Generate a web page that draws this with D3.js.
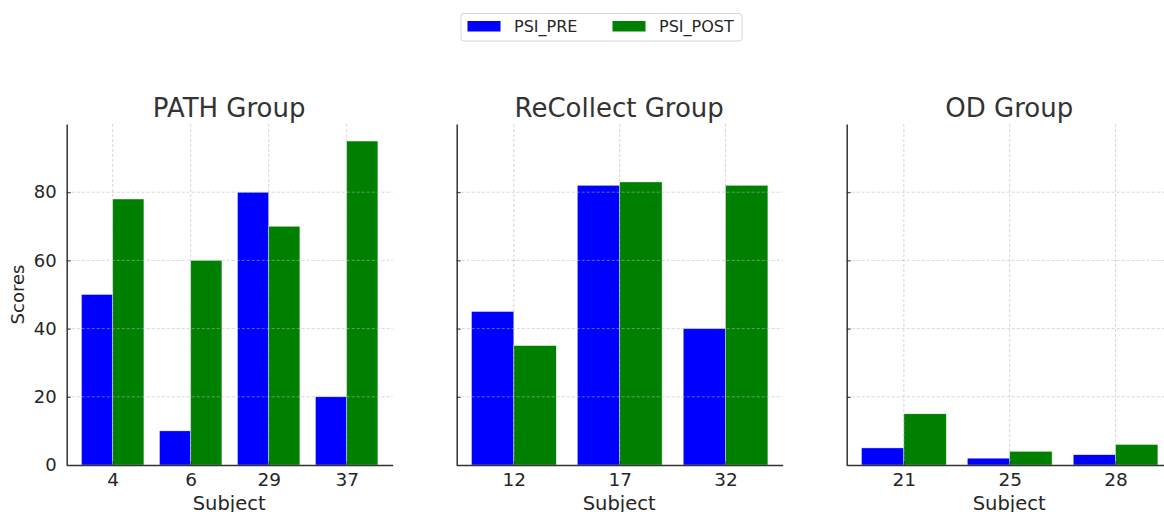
<!DOCTYPE html>
<html>
<head>
<meta charset="utf-8">
<script src="https://cdn.jsdelivr.net/npm/d3@7"></script>
<style>
  html, body { margin: 0; padding: 0; background: #fff; }
  svg { display: block; font-family: "DejaVu Sans", sans-serif; }
</style>
</head>
<body>
<div id="chart"></div>
<script>
// data
const groups = ["PATH Group", "ReCollect Group", "OD Group"]
const subjects = [[4, 6, 29, 37], [12, 17, 32], [21, 25, 28]]
const psiPre = [[50, 10, 80, 20], [45, 82, 40], [5, 2, 3]]
const psiPost = [[78, 60, 70, 95], [35, 83, 82], [15, 4, 6]]
const seriesNames = ["PSI_PRE", "PSI_POST"]
const seriesColors = ["#0000ff", "#008000"]
const yTicks = [0, 20, 40, 60, 80]

const width = 1164, height = 512
const svg = d3.select("#chart").append("svg")
    .attr("width", width)
    .attr("height", height)

// layout
const panelLeft = [66.7, 456.7, 846.7]
const panelW = 326
const plotTop = 124, plotBottom = 465
const barW = 0.4
const textColor = "#262626"

const y = d3.scaleLinear().domain([0, 100]).range([plotBottom, plotTop])

groups.forEach((name, gi) => {
    const n = subjects[gi].length
    const margin = 0.05 * (n - 1 + 2 * barW)
    const x = d3.scaleLinear()
        .domain([-barW - margin, n - 1 + barW + margin])
        .range([0, panelW])

    const g = svg.append("g")
        .attr("transform", `translate(${panelLeft[gi]},0)`)

    // bars
    const rows = subjects[gi].map((s, i) => ({ i, vals: [psiPre[gi][i], psiPost[gi][i]] }))
    rows.forEach(r => {
        r.vals.forEach((v, k) => {
            g.append("rect")
                .attr("x", x(r.i + (k === 0 ? -barW : 0)))
                .attr("y", y(v))
                .attr("width", x(barW) - x(0))
                .attr("height", y(0) - y(v))
                .attr("fill", seriesColors[k])
                .attr("stroke", "#e8f5e8")
                .attr("stroke-width", 0.4)
        })
    })

    // grid on top of bars (dashed)
    const grid = g.append("g")
        .attr("stroke", "#b8b8b8")
        .attr("stroke-opacity", 0.7)
        .attr("stroke-width", 0.8)
        .attr("stroke-dasharray", "3,2")
    grid.selectAll("line.h")
        .data(yTicks.slice(1))
        .join("line")
        .attr("class", "h")
        .attr("x1", 0).attr("x2", panelW)
        .attr("y1", d => y(d)).attr("y2", d => y(d))
    grid.selectAll("line.v")
        .data(d3.range(n))
        .join("line")
        .attr("class", "v")
        .attr("x1", d => x(d)).attr("x2", d => x(d))
        .attr("y1", plotTop).attr("y2", plotBottom)

    // axes
    const yAxis = d3.axisLeft(y)
        .tickValues(yTicks)
        .tickSizeInner(-4)
        .tickSizeOuter(0)
        .tickPadding(10)
        .tickFormat(gi === 0 ? d3.format("d") : () => "")
    const ya = g.append("g").call(yAxis)
    ya.select(".domain").attr("stroke", "#333").attr("stroke-width", 1.5)
    ya.selectAll(".tick line").attr("stroke", "#333")
    ya.selectAll(".tick text").attr("fill", textColor).attr("font-size", 18)
        .attr("font-family", "DejaVu Sans")

    const xAxis = d3.axisBottom(x)
        .tickValues(d3.range(n))
        .tickSizeInner(-4)
        .tickSizeOuter(0)
        .tickPadding(8)
        .tickFormat(i => subjects[gi][i])
    const xa = g.append("g")
        .attr("transform", `translate(0,${plotBottom})`)
        .call(xAxis)
    xa.select(".domain").attr("stroke", "#333").attr("stroke-width", 1.5)
    xa.selectAll(".tick line").attr("stroke", "#333")
    xa.selectAll(".tick text").attr("fill", textColor).attr("font-size", 18.5)
        .attr("font-family", "DejaVu Sans")

    // title
    g.append("text")
        .attr("x", panelW / 2 - 0.5)
        .attr("y", 116.5)
        .attr("text-anchor", "middle")
        .attr("fill", "#333")
        .attr("font-size", 26)
        .text(name)

    // x label
    g.append("text")
        .attr("x", panelW / 2 - 0.5)
        .attr("y", 510)
        .attr("text-anchor", "middle")
        .attr("fill", textColor)
        .attr("font-size", 19.5)
        .text("Subject")
})

// y label
svg.append("text")
    .attr("transform", `translate(24,${(plotTop + plotBottom) / 2}) rotate(-90)`)
    .attr("text-anchor", "middle")
    .attr("fill", textColor)
    .attr("font-size", 18)
    .text("Scores")

// legend
const legend = svg.append("g")
legend.append("rect")
    .attr("x", 461).attr("y", 13.5)
    .attr("width", 281).attr("height", 27.5)
    .attr("rx", 3)
    .attr("fill", "#fff")
    .attr("stroke", "#d6d6d6")
    .attr("stroke-width", 1)
const legX = [467.5, 612.5]
seriesNames.forEach((s, k) => {
    legend.append("rect")
        .attr("x", legX[k]).attr("y", 21)
        .attr("width", 33).attr("height", 10.5)
        .attr("fill", seriesColors[k])
    legend.append("text")
        .attr("x", legX[k] + 46.5).attr("y", 32)
        .attr("fill", textColor)
        .attr("font-size", 16)
        .text(s)
})
</script>
</body>
</html>
